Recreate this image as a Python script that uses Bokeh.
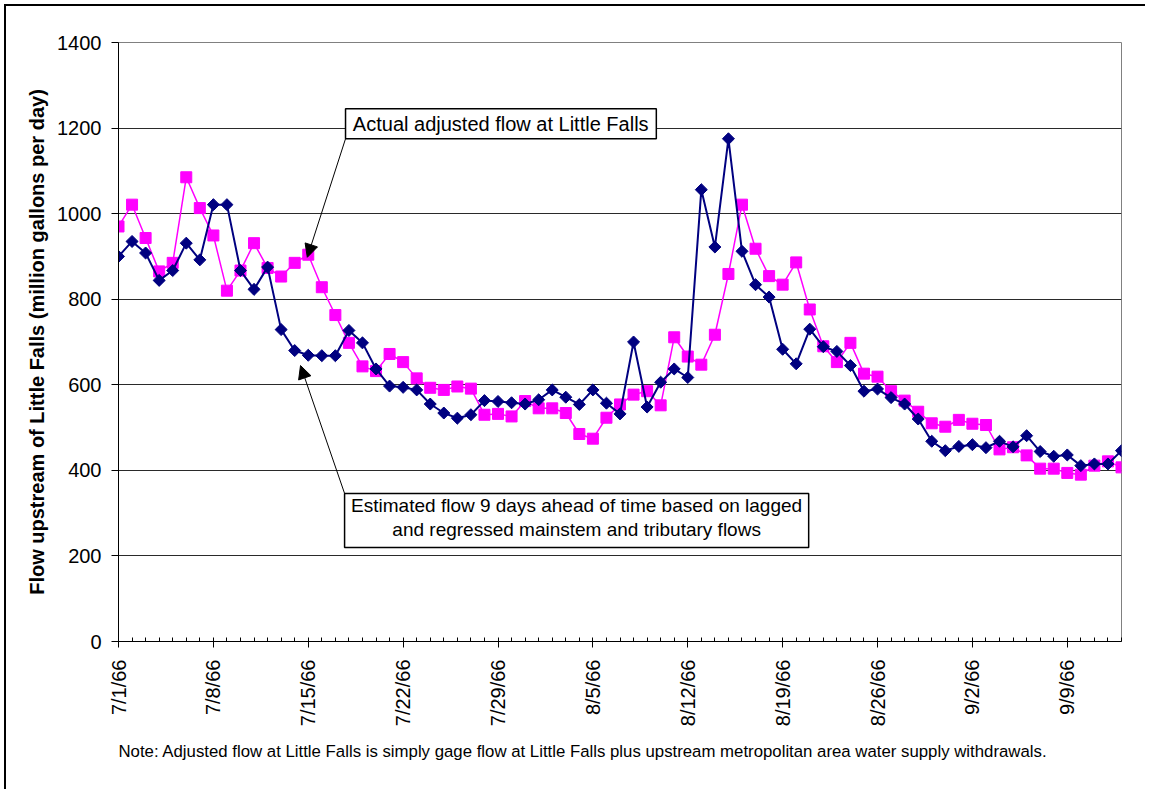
import datetime as dt
import numpy as np
from bokeh.plotting import figure
from bokeh.models import (Range1d, FixedTicker, Arrow, NormalHead, BoxAnnotation,
                          Title, ColumnDataSource, Label)
from bokeh.embed import file_html
from bokeh.resources import INLINE

# ---------------- data ----------------
start_date = dt.date(1966, 7, 1)
n_days = 75
day_index = list(range(n_days))
date_labels = [
    f"{d.month}/{d.day}/{d.year % 100}"
    for d in (start_date + dt.timedelta(days=i) for i in day_index)
]

# Estimated flow 9 days ahead (navy diamonds)
estimated = [900, 935, 908, 844, 867, 931, 892, 1021, 1021, 867,
             823, 875, 729, 680, 669, 668, 668, 727, 698, 637,
             597, 594, 588, 555, 534, 522, 530, 563, 561, 558,
             555, 565, 588, 571, 554, 588, 557, 532, 700, 548,
             606, 637, 617, 1056, 922, 1175, 912, 834, 805, 683,
             649, 730, 689, 678, 645, 585, 590, 570, 555, 520,
             468, 446, 456, 460, 453, 468, 455, 481, 444, 433,
             436, 411, 415, 415, 446]

# Actual adjusted flow at Little Falls (magenta squares)
actual = [970, 1021, 943, 865, 885, 1085, 1013, 949, 820, 867,
          931, 873, 853, 885, 904, 828, 763, 698, 643, 632,
          672, 653, 615, 593, 588, 596, 591, 530, 532, 526,
          562, 545, 545, 534, 485, 474, 523, 554, 577, 585,
          552, 711, 666, 647, 717, 859, 1021, 918, 854, 834,
          886, 776, 690, 653, 698, 626, 619, 585, 563, 537,
          510, 502, 518, 509, 506, 449, 454, 435, 404, 404,
          394, 390, 411, 421, 407]

y_ticks = [0, 200, 400, 600, 800, 1000, 1200, 1400]
x_tick_days = [0, 7, 14, 21, 28, 35, 42, 49, 56, 63, 70]

y_label = "Flow upstream of Little Falls (million gallons per day)"
actual_text = "Actual adjusted flow at Little Falls"
estimated_lines = ["Estimated flow 9 days ahead of time based on lagged",
                   "and regressed mainstem and tributary flows"]
note_text = ("Note: Adjusted flow at Little Falls is simply gage flow at Little Falls "
             "plus upstream metropolitan area water supply withdrawals.")

FONT = "Liberation Sans"

# ---------------- figure ----------------
p = figure(frame_width=1003, frame_height=599,
           min_border_left=112, min_border_top=36,
           min_border_right=24, min_border_bottom=148,
           x_range=Range1d(0, n_days - 1), y_range=Range1d(0, 1400),
           output_backend="svg", toolbar_location=None,
           background_fill_color="white", border_fill_color="white")
p.styles = {"border-left": "2px solid black", "border-top": "2px solid black",
            "margin-left": "4px", "margin-top": "4px"}

p.outline_line_color = "#808080"
p.outline_line_width = 1

# grid
p.xgrid.visible = False
p.ygrid.ticker = FixedTicker(ticks=y_ticks)
p.ygrid.grid_line_color = "#2a2a2a"
p.ygrid.grid_line_width = 1

# x axis
xa = p.xaxis[0]
xa.ticker = FixedTicker(ticks=x_tick_days, minor_ticks=day_index)
xa.major_label_overrides = {i: date_labels[i] for i in x_tick_days}
xa.major_label_orientation = np.pi / 2
xa.major_label_text_font = FONT
xa.major_label_text_font_size = "20px"
xa.major_label_text_color = "black"
xa.major_label_standoff = 12
xa.major_tick_in = 0
xa.major_tick_out = 6
xa.minor_tick_in = 4
xa.minor_tick_out = 0
xa.axis_line_color = "black"
xa.major_tick_line_color = "black"
xa.minor_tick_line_color = "black"

# y axis
ya = p.yaxis[0]
ya.ticker = FixedTicker(ticks=y_ticks)
ya.major_label_text_font = FONT
ya.major_label_text_font_size = "20px"
ya.major_label_text_color = "black"
ya.major_label_standoff = 10
ya.major_tick_in = 0
ya.major_tick_out = 7
ya.minor_tick_line_color = None
ya.axis_line_color = "black"
ya.major_tick_line_color = "black"
ya.axis_label = y_label
ya.axis_label_text_font = FONT
ya.axis_label_text_font_size = "20px"
ya.axis_label_text_font_style = "bold"
ya.axis_label_text_color = "black"
ya.axis_label_standoff = 6

# ---------------- series ----------------
src = ColumnDataSource(dict(day=day_index, est=estimated, act=actual))

p.line("day", "act", source=src, line_color="#FF00FF", line_width=1.5)
p.scatter("day", "act", source=src, marker="square", size=11,
          fill_color="#FF00FF", line_color="#FF00FF")

p.line("day", "est", source=src, line_color="#000080", line_width=2)
p.scatter("day", "est", source=src, marker="square", angle=np.pi / 4, size=8.5,
          fill_color="#000080", line_color="#000080")

# ---------------- annotations ----------------
box1 = BoxAnnotation(left=16.75, right=39.68, bottom=1175, top=1245,
                     fill_color="white", fill_alpha=1.0,
                     line_color="black", line_alpha=1.0, line_width=1.5)
p.add_layout(box1)
p.add_layout(Label(x=28.2, y=1210, text=actual_text, text_align="center",
                   text_baseline="middle", text_font=FONT, text_font_size="20px",
                   text_color="black"))

box2 = BoxAnnotation(left=16.68, right=50.92, bottom=219.7, top=346,
                     fill_color="white", fill_alpha=1.0,
                     line_color="black", line_alpha=1.0, line_width=1.5)
p.add_layout(box2)
for line_text, ly in zip(estimated_lines, [318, 262]):
    p.add_layout(Label(x=33.8, y=ly, text=line_text, text_align="center",
                       text_baseline="middle", text_font=FONT,
                       text_font_size="19px", text_color="black"))

p.add_layout(Arrow(end=NormalHead(size=13, fill_color="black", line_color="black"),
                   x_start=16.75, y_start=1175, x_end=13.93, y_end=898,
                   line_color="black", line_width=1))
p.add_layout(Arrow(end=NormalHead(size=13, fill_color="black", line_color="black"),
                   x_start=16.68, y_start=346, x_end=13.43, y_end=645,
                   line_color="black", line_width=1))

note = Title(text=note_text, align="left", text_font=FONT,
             text_font_size="16.8px", text_font_style="normal",
             text_color="black", standoff=20)
p.add_layout(note, "below")

open("out.html", "w").write(file_html(p, INLINE))
